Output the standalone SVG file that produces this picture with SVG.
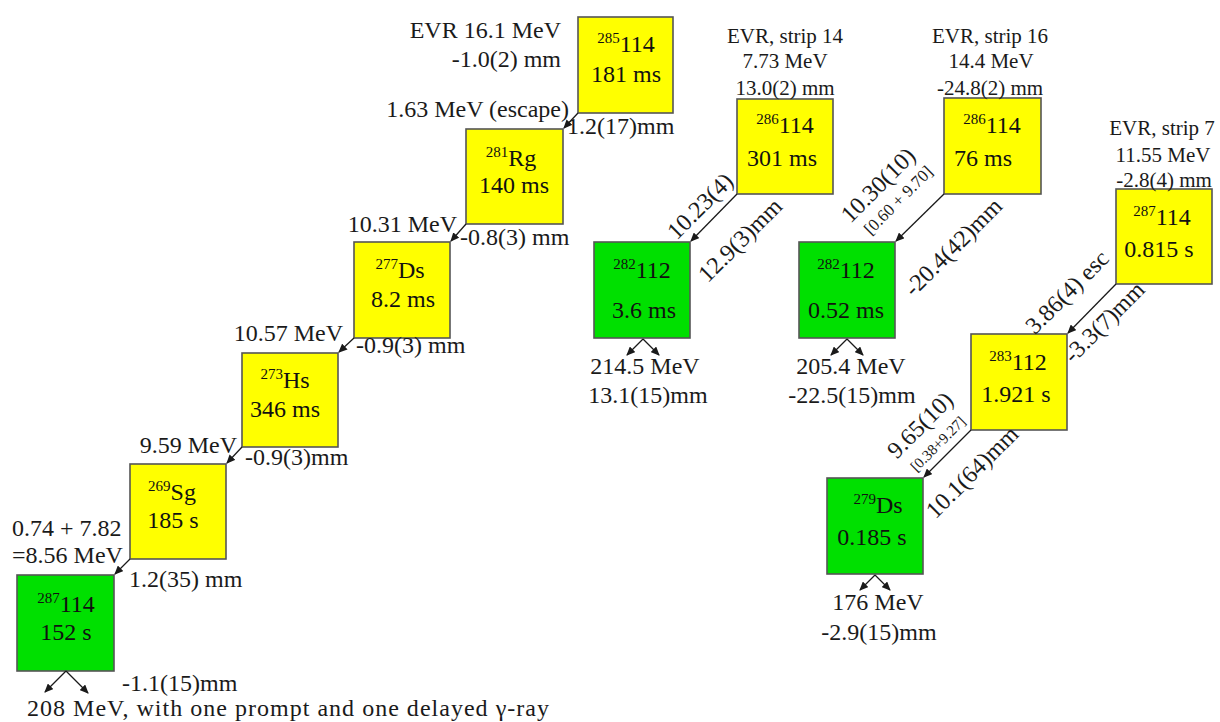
<svg xmlns="http://www.w3.org/2000/svg" width="1220" height="722" viewBox="0 0 1220 722">
<style>
.y{fill:#FFFF00;stroke:#555;stroke-width:1.6;}
.g{fill:#00E000;stroke:#555;stroke-width:1.6;}
.c{stroke:#1a1a1a;stroke-width:1.3;fill:none;marker-end:url(#ah);}
</style>
<defs>
<marker id="ah" markerWidth="9" markerHeight="8" refX="8" refY="4" orient="auto" markerUnits="userSpaceOnUse">
<path d="M0,0 L9,4 L0,8 Z" fill="#1a1a1a"/>
</marker>
</defs>
<rect width="1220" height="722" fill="#fff"/>

<g font-family="'Liberation Serif', serif" font-size="24" fill="#111">
<g id="n285_114">
<rect class="y" x="578" y="17" width="95" height="96"/>
<text x="626" y="52" text-anchor="middle"><tspan font-size="15" dy="-9">285</tspan><tspan dy="9">114</tspan></text>
<text x="626" y="82" text-anchor="middle">181 ms</text>
</g>
<g id="n281_Rg">
<rect class="y" x="466" y="129" width="97" height="95"/>
<text x="511" y="166" text-anchor="middle"><tspan font-size="15" dy="-9">281</tspan><tspan dy="9">Rg</tspan></text>
<text x="514" y="193" text-anchor="middle">140 ms</text>
</g>
<g id="n277_Ds">
<rect class="y" x="354" y="242" width="96" height="96"/>
<text x="400" y="278" text-anchor="middle"><tspan font-size="15" dy="-9">277</tspan><tspan dy="9">Ds</tspan></text>
<text x="403" y="307" text-anchor="middle">8.2 ms</text>
</g>
<g id="n273_Hs">
<rect class="y" x="242" y="353" width="96" height="94"/>
<text x="285" y="388" text-anchor="middle"><tspan font-size="15" dy="-9">273</tspan><tspan dy="9">Hs</tspan></text>
<text x="285" y="417" text-anchor="middle">346 ms</text>
</g>
<g id="n269_Sg">
<rect class="y" x="130" y="464" width="96" height="95"/>
<text x="172" y="500" text-anchor="middle"><tspan font-size="15" dy="-9">269</tspan><tspan dy="9">Sg</tspan></text>
<text x="173" y="528" text-anchor="middle">185 s</text>
</g>
<g id="n287_114_a">
<rect class="g" x="17" y="575" width="97" height="96"/>
<text x="66" y="612" text-anchor="middle"><tspan font-size="15" dy="-9">287</tspan><tspan dy="9">114</tspan></text>
<text x="66" y="640" text-anchor="middle">152 s</text>
</g>
<g id="n286_114_a">
<rect class="y" x="737" y="99" width="96" height="95"/>
<text x="785" y="133" text-anchor="middle"><tspan font-size="15" dy="-9">286</tspan><tspan dy="9">114</tspan></text>
<text x="782" y="166" text-anchor="middle">301 ms</text>
</g>
<g id="n282_112_a">
<rect class="g" x="594" y="242" width="96" height="96"/>
<text x="642" y="278" text-anchor="middle"><tspan font-size="15" dy="-9">282</tspan><tspan dy="9">112</tspan></text>
<text x="644" y="318" text-anchor="middle">3.6 ms</text>
</g>
<g id="n286_114_b">
<rect class="y" x="944" y="98" width="97" height="96"/>
<text x="992" y="133" text-anchor="middle"><tspan font-size="15" dy="-9">286</tspan><tspan dy="9">114</tspan></text>
<text x="954" y="166">76 ms</text>
</g>
<g id="n282_112_b">
<rect class="g" x="799" y="242" width="96" height="96"/>
<text x="846" y="278" text-anchor="middle"><tspan font-size="15" dy="-9">282</tspan><tspan dy="9">112</tspan></text>
<text x="846" y="318" text-anchor="middle">0.52 ms</text>
</g>
<g id="n287_114_b">
<rect class="y" x="1116" y="189" width="96" height="95"/>
<text x="1162" y="225" text-anchor="middle"><tspan font-size="15" dy="-9">287</tspan><tspan dy="9">114</tspan></text>
<text x="1159" y="257" text-anchor="middle">0.815 s</text>
</g>
<g id="n283_112">
<rect class="y" x="971" y="334" width="96" height="96"/>
<text x="1018" y="370" text-anchor="middle"><tspan font-size="15" dy="-9">283</tspan><tspan dy="9">112</tspan></text>
<text x="1016" y="402" text-anchor="middle">1.921 s</text>
</g>
<g id="n279_Ds">
<rect class="g" x="827" y="478" width="96" height="96"/>
<text x="878" y="513" text-anchor="middle"><tspan font-size="15" dy="-9">279</tspan><tspan dy="9">Ds</tspan></text>
<text x="872" y="545" text-anchor="middle">0.185 s</text>
</g>
</g>

<g id="connectors">
<line class="c" x1="578" y1="113" x2="564" y2="128"/>
<line class="c" x1="466" y1="224" x2="451" y2="241"/>
<line class="c" x1="354" y1="338" x2="339" y2="352"/>
<line class="c" x1="242" y1="447" x2="227" y2="463"/>
<line class="c" x1="130" y1="559" x2="115" y2="574"/>
<line class="c" x1="66" y1="671" x2="45" y2="692"/>
<line class="c" x1="66" y1="671" x2="88" y2="693"/>
<line class="c" x1="737" y1="194" x2="691" y2="241"/>
<line class="c" x1="643" y1="339" x2="627" y2="355"/>
<line class="c" x1="643" y1="339" x2="659" y2="355"/>
<line class="c" x1="944" y1="194" x2="896" y2="241"/>
<line class="c" x1="847" y1="339" x2="831" y2="355"/>
<line class="c" x1="847" y1="339" x2="863" y2="355"/>
<line class="c" x1="1116" y1="284" x2="1068" y2="333"/>
<line class="c" x1="971" y1="430" x2="924" y2="477"/>
<line class="c" x1="875" y1="575" x2="860" y2="590"/>
<line class="c" x1="875" y1="575" x2="890" y2="590"/>
</g>

<g font-family="'Liberation Serif', serif" font-size="24" fill="#1a1a1a">
<g id="labels1">
<text x="561" y="38" text-anchor="end">EVR 16.1 MeV</text>
<text x="561" y="67" text-anchor="end">-1.0(2) mm</text>
<text x="569" y="117" text-anchor="end">1.63 MeV (escape)</text>
<text x="567" y="134">1.2(17)mm</text>
<text x="457" y="232" text-anchor="end">10.31 MeV</text>
<text x="460" y="245">-0.8(3) mm</text>
<text x="343" y="341" text-anchor="end">10.57 MeV</text>
<text x="356" y="353">-0.9(3) mm</text>
<text x="237" y="453" text-anchor="end">9.59 MeV</text>
<text x="245" y="465">-0.9(3)mm</text>
<text x="12" y="536">0.74 + 7.82</text>
<text x="12" y="563">=8.56 MeV</text>
<text x="129" y="587">1.2(35) mm</text>
<text x="122" y="691">-1.1(15)mm</text>
<text x="27" y="716" textLength="522" lengthAdjust="spacing">208 MeV, with one prompt and one delayed γ-ray</text>
</g>

<g id="labels2">
<text font-size="21" x="785" y="43" text-anchor="middle">EVR, strip 14</text>
<text font-size="21" x="785" y="68" text-anchor="middle">7.73 MeV</text>
<text font-size="21" x="785" y="95" text-anchor="middle">13.0(2) mm</text>
<text transform="translate(700,206) rotate(-45)" y="8" text-anchor="middle">10.23(4)</text>
<text transform="translate(740,240) rotate(-45)" y="8" text-anchor="middle">12.9(3)mm</text>
<text x="645" y="374" text-anchor="middle">214.5 MeV</text>
<text x="648" y="403" text-anchor="middle">13.1(15)mm</text>
</g>

<g id="labels3">
<text font-size="21" x="990" y="43" text-anchor="middle">EVR, strip 16</text>
<text font-size="21" x="991" y="68" text-anchor="middle">14.4 MeV</text>
<text font-size="21" x="990" y="95" text-anchor="middle">-24.8(2) mm</text>
<text transform="translate(878,185) rotate(-45)" y="8" text-anchor="middle">10.30(10)</text>
<text font-size="17" transform="translate(898,200) rotate(-45)" y="6" text-anchor="middle">[0.60 + 9.70]</text>
<text transform="translate(953,247) rotate(-45)" y="8" text-anchor="middle">-20.4(42)mm</text>
<text x="851" y="374" text-anchor="middle">205.4 MeV</text>
<text x="852" y="403" text-anchor="middle">-22.5(15)mm</text>
</g>

<g id="labels4">
<text font-size="21" x="1162" y="135" text-anchor="middle">EVR, strip 7</text>
<text font-size="21" x="1163" y="162" text-anchor="middle">11.55 MeV</text>
<text font-size="21" x="1164" y="187" text-anchor="middle">-2.8(4) mm</text>
<text transform="translate(1067,292) rotate(-45)" y="8" text-anchor="middle">3.86(4) esc</text>
<text transform="translate(1104,322) rotate(-45)" y="8" text-anchor="middle">-3.3(7)mm</text>
<text transform="translate(920,425) rotate(-45)" y="8" text-anchor="middle">9.65(10)</text>
<text font-size="15" transform="translate(938,444) rotate(-45)" y="5" text-anchor="middle">[0.38+9.27]</text>
<text transform="translate(972,472) rotate(-45)" y="8" text-anchor="middle">10.1(64)mm</text>
<text x="878" y="610" text-anchor="middle">176 MeV</text>
<text x="879" y="640" text-anchor="middle">-2.9(15)mm</text>
</g>
</g>
</svg>
